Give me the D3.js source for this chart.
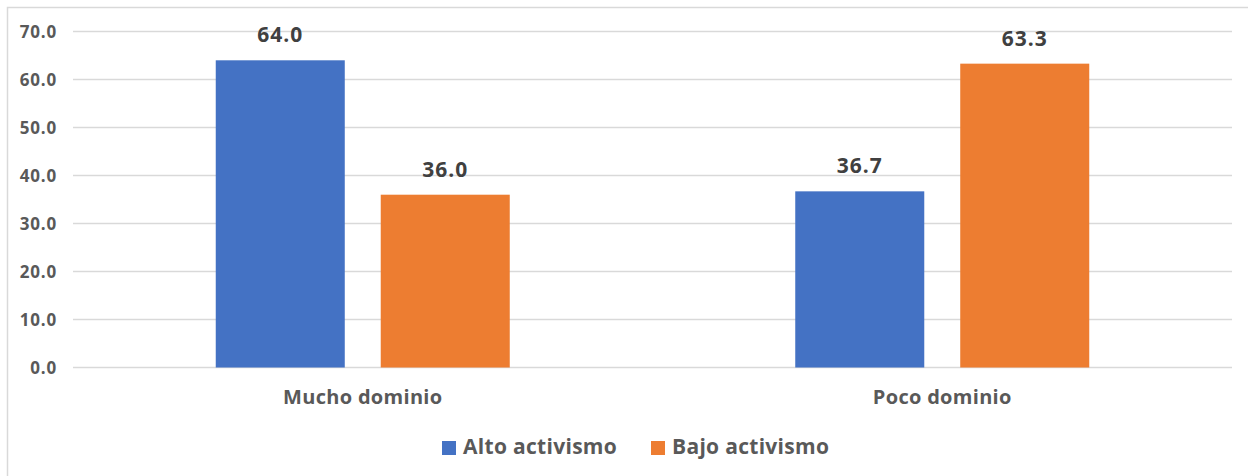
<!DOCTYPE html>
<html><head><meta charset="utf-8">
<script src="https://cdn.jsdelivr.net/npm/d3@7/dist/d3.min.js"></script>
<style>body{margin:0;background:#fff;}svg{display:block;}</style>
</head><body>
<svg id="c" width="1248" height="476"></svg>
<script>
const categories = ["Mucho dominio", "Poco dominio"];
const seriesNames = ["Alto activismo", "Bajo activismo"];
const alto = [64.0, 36.7];
const bajo = [36.0, 63.3];
const yTicks = [0, 10, 20, 30, 40, 50, 60, 70];
const colors = ["#4472C4", "#ED7D31"];

(function () {
const svg = d3.select("#c");
const font = "'Open Sans', Lato, sans-serif";

// chart border
svg.append("rect").attr("x", 7.5).attr("y", 7.5).attr("width", 1260).attr("height", 480)
  .attr("fill", "none").attr("stroke", "#d9d9d9").attr("stroke-width", 1.5);

const pLeft = 73, pRight = 1232, pTop = 31.5, pBottom = 367.5;
const y = d3.scaleLinear().domain([0, 70]).range([pBottom, pTop]);
const x0 = d3.scaleBand().domain(categories).range([pLeft, pRight]).padding(0);
const groupW = 294;
const x1 = d3.scaleBand().domain(seriesNames).range([0, groupW]).paddingInner(0.218).paddingOuter(0);

// grid
svg.append("g").selectAll("line").data(yTicks).join("line")
  .attr("x1", pLeft).attr("x2", pRight)
  .attr("y1", d => y(d)).attr("y2", d => y(d))
  .attr("stroke", "#d9d9d9").attr("stroke-width", 1.3);

// y axis labels
const yAxis = d3.axisLeft(y).tickValues(yTicks).tickFormat(d3.format(".1f")).tickSize(0).tickPadding(0);
const ya = svg.append("g").attr("transform", "translate(57,0)").call(yAxis);
ya.select(".domain").remove();
ya.selectAll("text").attr("font-family", font).attr("font-weight", "bold")
  .attr("font-size", 17).attr("letter-spacing", "0.8px").attr("fill", "#595959").attr("dy", "0.36em");

// bars
const data = categories.map((c, i) => ({cat: c, vals: [
  {s: seriesNames[0], v: alto[i], col: colors[0]},
  {s: seriesNames[1], v: bajo[i], col: colors[1]}]}));

const g = svg.append("g").selectAll("g").data(data).join("g")
  .attr("transform", d => `translate(${x0(d.cat) + (x0.bandwidth() - groupW) / 2},0)`);
g.selectAll("rect").data(d => d.vals).join("rect")
  .attr("x", d => x1(d.s)).attr("width", x1.bandwidth())
  .attr("y", d => y(d.v)).attr("height", d => y(0) - y(d.v))
  .attr("fill", d => d.col);
g.selectAll("text").data(d => d.vals).join("text")
  .attr("x", d => x1(d.s) + x1.bandwidth() / 2)
  .attr("y", d => y(d.v) - 18)
  .attr("text-anchor", "middle").attr("font-family", font).attr("font-weight", "bold")
  .attr("font-size", 21).attr("letter-spacing", "1px").attr("fill", "#404040")
  .text(d => d3.format(".1f")(d.v));

// x axis labels
const xAxis = d3.axisBottom(x0).tickSize(0).tickPadding(0);
const xa = svg.append("g").attr("transform", `translate(0,${pBottom})`).call(xAxis);
xa.select(".domain").remove();
xa.selectAll("text").attr("font-family", font).attr("font-weight", "bold")
  .attr("font-size", 20).attr("letter-spacing", "0.3px").attr("fill", "#595959").attr("dy", null).attr("y", 36);

// legend
const legX = [442, 651];
const leg = svg.append("g").selectAll("g").data(seriesNames).join("g")
  .attr("transform", (d, i) => `translate(${legX[i]},441)`);
leg.append("rect").attr("width", 14).attr("height", 14).attr("fill", (d, i) => colors[i]);
leg.append("text").attr("x", 21).attr("y", 12.5).attr("font-family", font).attr("font-weight", "bold")
  .attr("font-size", 21).attr("letter-spacing", "0.3px").attr("fill", "#595959").text(d => d);
})();
</script>
</body></html>
